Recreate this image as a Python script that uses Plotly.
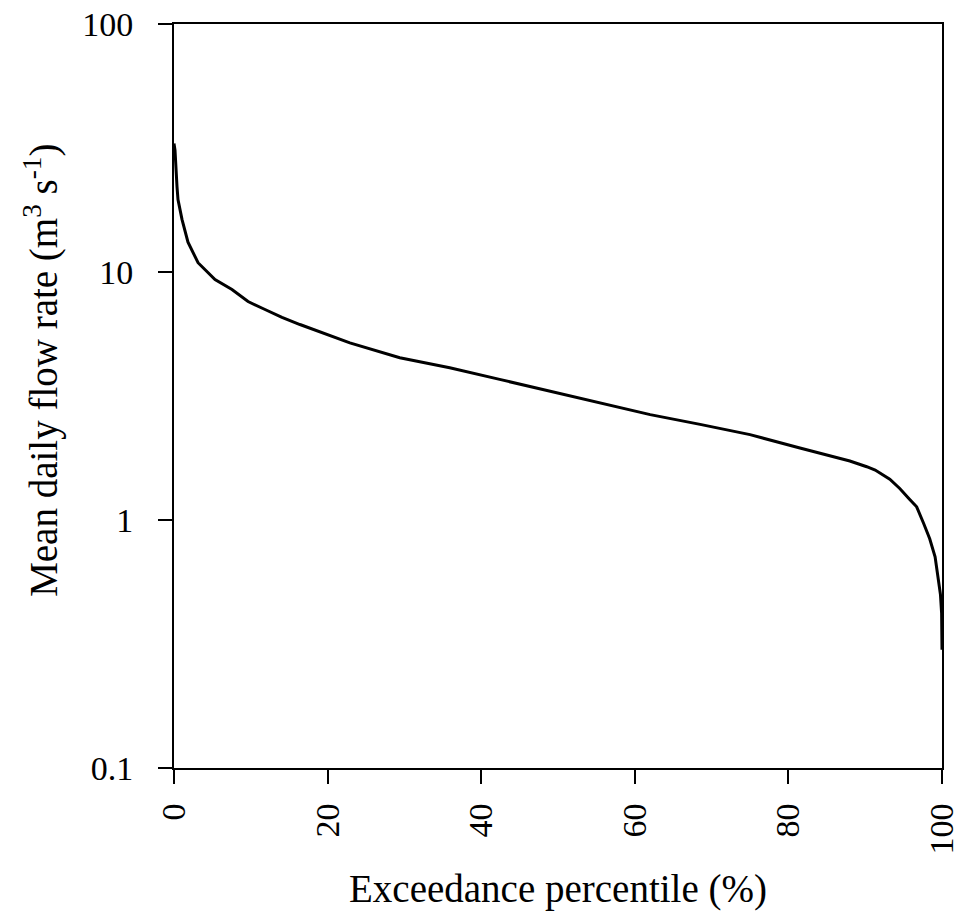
import plotly.graph_objects as go

# Flow duration curve
exceedance_pct = [0.0, 0.13, 0.39, 0.52, 1.04, 1.82, 3.13, 5.34, 7.55, 9.64, 11.85, 14.06,
                  16.4, 22.9, 29.4, 35.9, 42.4, 49.0, 55.5, 62.0, 68.5, 75.0, 81.5, 85.8,
                  88.0, 90.2, 91.3, 93.2, 94.5, 95.8, 96.7, 97.6, 98.4, 99.1, 99.5, 99.8,
                  99.95, 100.0]
flow_rate = [33.0, 31.0, 22.1, 19.6, 16.3, 13.2, 10.9, 9.33, 8.5, 7.6, 7.06, 6.56,
             6.14, 5.18, 4.51, 4.11, 3.69, 3.31, 2.96, 2.66, 2.43, 2.21, 1.95, 1.80,
             1.73, 1.64, 1.59, 1.46, 1.34, 1.21, 1.13, 0.97, 0.84, 0.71, 0.59, 0.50,
             0.42, 0.30]

x_ticks = [0, 20, 40, 60, 80, 100]
y_ticks = [0.1, 1, 10, 100]
y_ticktext = ["0.1", "1", "10", "100"]

FONT = "Liberation Serif, Times New Roman, serif"

fig = go.Figure()
fig.add_trace(go.Scatter(x=exceedance_pct, y=flow_rate, mode="lines",
                         line=dict(color="black", width=3), showlegend=False,
                         cliponaxis=False))

fig.update_layout(
    width=958, height=916,
    margin=dict(l=174, r=16, t=24, b=148),
    paper_bgcolor="white", plot_bgcolor="white",
    font=dict(family=FONT, size=34, color="black"),
)
fig.update_xaxes(
    range=[0, 100], tickvals=x_ticks, ticktext=[str(v) for v in x_ticks], tickangle=-90,
    showline=True, linecolor="black", linewidth=2, mirror=True,
    ticks="outside", ticklen=14, tickwidth=2, tickcolor="black",
    showgrid=False, zeroline=False, automargin=False,
    ticklabelstandoff=6, ticklabeloverflow="allow",
    title=dict(text="Exceedance percentile (%)", standoff=21,
               font=dict(family=FONT, size=39)),
)
fig.update_yaxes(
    type="log", range=[-1, 2], tickvals=y_ticks, ticktext=y_ticktext,
    showline=True, linecolor="black", linewidth=2, mirror=True,
    ticks="outside", ticklen=14, tickwidth=2, tickcolor="black",
    showgrid=False, zeroline=False, automargin=False,
    ticklabelstandoff=18, ticklabeloverflow="allow",
)
fig.add_annotation(
    text="Mean daily flow rate (m<sup>3</sup> s<sup>-1</sup>)",
    xref="paper", yref="paper", x=-0.172, y=0.535,
    xanchor="center", yanchor="middle", textangle=-90, showarrow=False,
    font=dict(family=FONT, size=39, color="black"),
)

fig.write_html("out.html")
